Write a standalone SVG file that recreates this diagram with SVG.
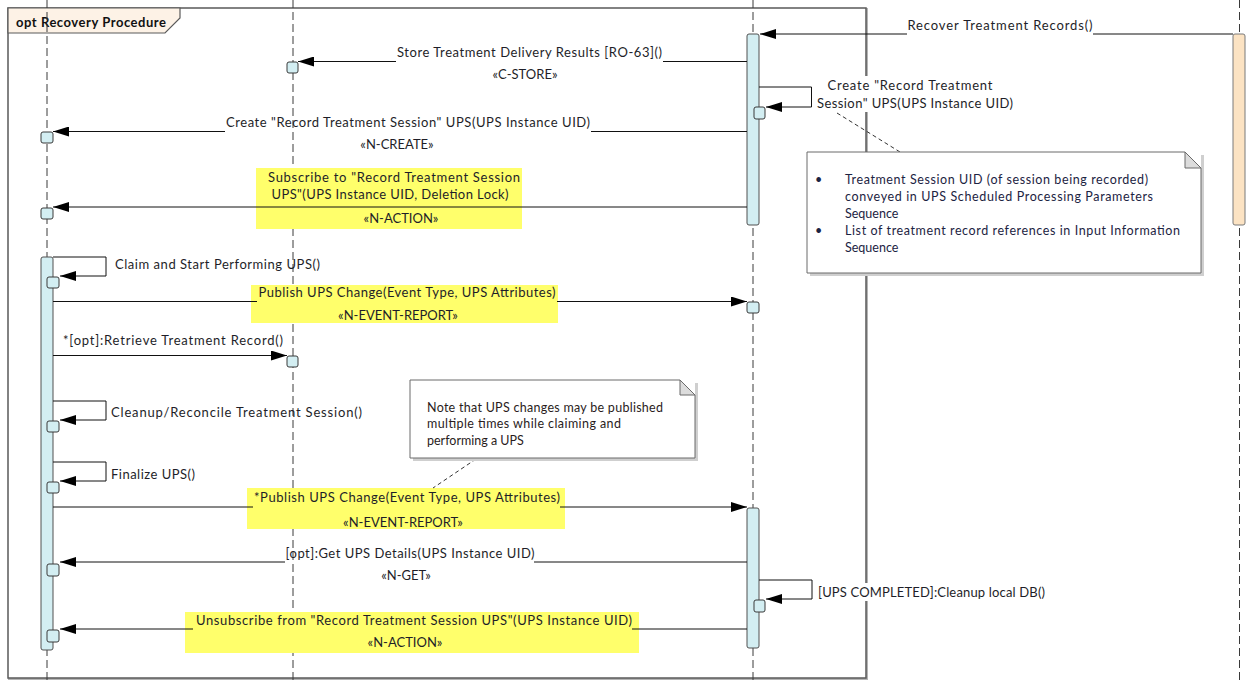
<svg xmlns="http://www.w3.org/2000/svg" width="1246" height="683" viewBox="0 0 1246 683">
<style>
.t{font-family:Lato,"Liberation Sans",sans-serif;font-size:13px;fill:#1e1e28}
.m{text-anchor:middle}
.nt{font-family:Lato,"Liberation Sans",sans-serif;font-size:12.5px;fill:#1c2342}
.n2{font-family:Lato,"Liberation Sans",sans-serif;font-size:12.5px;fill:#2a1c1c}
.ll{stroke:#3a3a3a;stroke-width:1;stroke-dasharray:8 4;fill:none}
.bar{fill:#d3eef2;stroke:#505050;stroke-width:1}
.obar{fill:#fce3c3;stroke:#7a7a7a;stroke-width:1}
.sq{fill:#d3eef2;stroke:#3a3a3a;stroke-width:1}
.msg{stroke:#111;stroke-width:1;fill:none}
.hl{fill:#ffff6b}
.note{fill:#fff;stroke:#6a6a6a;stroke-width:1}
.shadow{fill:#cfcfcf}
.link{stroke:#333;stroke-width:1;stroke-dasharray:4 3;fill:none}
</style>
<defs>
<marker id="ah" markerWidth="16" markerHeight="10" refX="16" refY="5" orient="auto" markerUnits="userSpaceOnUse">
<path d="M0,0 L16,5 L0,10 z" fill="#000"/>
</marker>
</defs>
<rect width="1246" height="683" fill="#fff"/>

<g id="frame">
<rect x="9" y="9" width="858" height="670" fill="none" stroke="#b4b4b4" stroke-width="2"/>
<rect x="8" y="8" width="858" height="670" fill="#fff" stroke="#5a5a5a" stroke-width="1.5"/>
<path d="M8,8 H180 V18 L165,33 H8 Z" fill="#fdf2e6" stroke="#5a5a5a" stroke-width="1.2"/>
<text x="16" y="26.5" style="font-family:Lato,'Liberation Sans',sans-serif;font-size:13px;font-weight:bold;fill:#111" textLength="150">opt Recovery Procedure</text>
</g>

<g id="lifelines">
<line id="lifeline-a" class="ll" x1="47" y1="0" x2="47" y2="683"/>
<line id="lifeline-b" class="ll" x1="293" y1="0" x2="293" y2="683"/>
<line id="lifeline-c" class="ll" x1="753" y1="0" x2="753" y2="683"/>
<line id="lifeline-d" class="ll" x1="1239.5" y1="0" x2="1239.5" y2="683"/>
</g>

<g id="highlights">
<rect class="hl" x="256" y="168" width="266" height="61"/>
<rect class="hl" x="251" y="285" width="307" height="38"/>
<rect class="hl" x="247" y="488" width="318" height="41"/>
<rect class="hl" x="185" y="612" width="454" height="41"/>
</g>

<g id="label-backgrounds">
<rect x="813" y="76" width="206" height="36" fill="#fff"/>
<rect x="815" y="583" width="233" height="18" fill="#fff"/>
</g>

<g id="activations">
<rect id="act-d" class="obar" x="1233" y="34" width="12" height="191" rx="2"/>
<rect id="act-c1" class="bar" x="747" y="34" width="12" height="191" rx="2"/>
<rect id="act-c2" class="bar" x="747" y="508" width="12" height="140" rx="2"/>
<rect id="act-a" class="bar" x="41" y="257" width="12" height="393" rx="2"/>
</g>

<g id="occurrences">
<rect class="sq" x="287" y="62" width="11" height="11" rx="2"/>
<rect class="sq" x="754" y="107" width="11" height="12" rx="2"/>
<rect class="sq" x="41" y="132" width="12" height="11" rx="2"/>
<rect class="sq" x="41" y="208" width="12" height="11" rx="2"/>
<rect class="sq" x="47" y="277" width="12" height="11" rx="2"/>
<rect class="sq" x="747" y="302" width="12" height="11" rx="2"/>
<rect class="sq" x="287" y="356" width="11" height="11" rx="2"/>
<rect class="sq" x="47" y="421" width="12" height="11" rx="2"/>
<rect class="sq" x="47" y="482" width="12" height="11" rx="2"/>
<rect class="sq" x="47" y="564" width="12" height="12" rx="2"/>
<rect class="sq" x="754" y="600" width="11" height="12" rx="2"/>
<rect class="sq" x="47" y="630" width="12" height="12" rx="2"/>
</g>

<g id="connectors">
<line class="msg" x1="1233" y1="34" x2="1093" y2="34"/>
<line class="msg" x1="907" y1="34" x2="760" y2="34" marker-end="url(#ah)"/>
<line class="msg" x1="747" y1="61.5" x2="663" y2="61.5"/>
<line class="msg" x1="396" y1="61.5" x2="298" y2="61.5" marker-end="url(#ah)"/>
<path class="msg" d="M759,87 H811.5 V107 H766" marker-end="url(#ah)"/>
<line class="msg" x1="747" y1="131.5" x2="591" y2="131.5"/>
<line class="msg" x1="225" y1="131.5" x2="53" y2="131.5" marker-end="url(#ah)"/>
<line class="msg" x1="747" y1="207" x2="53" y2="207" marker-end="url(#ah)"/>
<path class="msg" d="M53,257 H106 V276 H60" marker-end="url(#ah)"/>
<line class="msg" x1="53" y1="301.5" x2="257" y2="301.5"/>
<line class="msg" x1="557" y1="301.5" x2="747" y2="301.5" marker-end="url(#ah)"/>
<line class="msg" x1="53" y1="355.5" x2="287" y2="355.5" marker-end="url(#ah)"/>
<path class="msg" d="M53,401 H106 V420 H60" marker-end="url(#ah)"/>
<path class="msg" d="M53,462 H106 V481 H60" marker-end="url(#ah)"/>
<line class="msg" x1="53" y1="507" x2="253" y2="507"/>
<line class="msg" x1="560" y1="507" x2="747" y2="507" marker-end="url(#ah)"/>
<line class="msg" x1="747" y1="562" x2="534" y2="562"/>
<line class="msg" x1="285" y1="562" x2="60" y2="562" marker-end="url(#ah)"/>
<path class="msg" d="M759,580 H812 V599 H766" marker-end="url(#ah)"/>
<line class="msg" x1="747" y1="629" x2="632" y2="629"/>
<line class="msg" x1="193" y1="629" x2="60" y2="629" marker-end="url(#ah)"/>
<line class="link" x1="837" y1="113" x2="900" y2="152"/>
<line class="link" x1="476" y1="459" x2="433" y2="488"/>
</g>

<g id="labels">
<text class="t m" x="1000" y="29.5" textLength="185">Recover Treatment Records()</text>
<text class="t m" x="529.5" y="56.5" textLength="265">Store Treatment Delivery Results [RO-63]()</text>
<text class="t m" x="525" y="78.5">«C-STORE»</text>
<text class="t m" x="910" y="89.5" textLength="165">Create "Record Treatment</text>
<text class="t m" x="915" y="107.5" textLength="196">Session" UPS(UPS Instance UID)</text>
<text class="t m" x="408" y="126.5" textLength="364">Create "Record Treatment Session" UPS(UPS Instance UID)</text>
<text class="t m" x="397" y="148.5">«N-CREATE»</text>
<text class="t m" x="394" y="181.5" textLength="252">Subscribe to "Record Treatment Session</text>
<text class="t m" x="390" y="198.5" textLength="237">UPS"(UPS Instance UID, Deletion Lock)</text>
<text class="t m" x="401" y="222.5">«N-ACTION»</text>
<text class="t" x="115" y="268.5" textLength="205">Claim and Start Performing UPS()</text>
<text class="t m" x="407" y="296.5" textLength="297">Publish UPS Change(Event Type, UPS Attributes)</text>
<text class="t m" x="398" y="319.5">«N-EVENT-REPORT»</text>
<text class="t" x="63" y="344.5" textLength="220">*[opt]:Retrieve Treatment Record()</text>
<text class="t" x="111" y="416.5" textLength="251">Cleanup/Reconcile Treatment Session()</text>
<text class="t" x="111" y="478.5" textLength="84">Finalize UPS()</text>
<text class="t m" x="407" y="501.5" textLength="306">*Publish UPS Change(Event Type, UPS Attributes)</text>
<text class="t m" x="403" y="526.5">«N-EVENT-REPORT»</text>
<text class="t m" x="410" y="557.5" textLength="249">[opt]:Get UPS Details(UPS Instance UID)</text>
<text class="t m" x="406" y="579.5">«N-GET»</text>
<text class="t" x="818" y="596.5" textLength="227">[UPS COMPLETED]:Cleanup local DB()</text>
<text class="t m" x="414" y="624.5" textLength="436">Unsubscribe from "Record Treatment Session UPS"(UPS Instance UID)</text>
<text class="t m" x="405" y="646.5">«N-ACTION»</text>
</g>

<g id="note-session">
<path class="shadow" d="M810,276 H1204 V155 H1201 V273 H810 Z"/>
<path class="note" d="M807,152 H1185 L1201,168 V273 H807 Z"/>
<path d="M1185,152 V168 H1201 Z" fill="#dcdcdc" stroke="#6a6a6a" stroke-width="1"/>
<text class="nt" x="815" y="184">•</text>
<text class="nt" x="845" y="184" textLength="303">Treatment Session UID (of session being recorded)</text>
<text class="nt" x="845" y="201" textLength="308">conveyed in UPS Scheduled Processing Parameters</text>
<text class="nt" x="845" y="218">Sequence</text>
<text class="nt" x="815" y="235">•</text>
<text class="nt" x="845" y="235" textLength="335">List of treatment record references in Input Information</text>
<text class="nt" x="845" y="252">Sequence</text>
</g>

<g id="note-publish">
<path class="shadow" d="M413,461 H698 V383 H695 V458 H413 Z"/>
<path class="note" d="M410,380 H680 L695,395 V458 H410 Z"/>
<path d="M680,380 V395 H695 Z" fill="#dcdcdc" stroke="#6a6a6a" stroke-width="1"/>
<text class="n2" x="427" y="411.5" textLength="236">Note that UPS changes may be published</text>
<text class="n2" x="427" y="428" textLength="194">multiple times while claiming and</text>
<text class="n2" x="427" y="445">performing a UPS</text>
</g>
</svg>
